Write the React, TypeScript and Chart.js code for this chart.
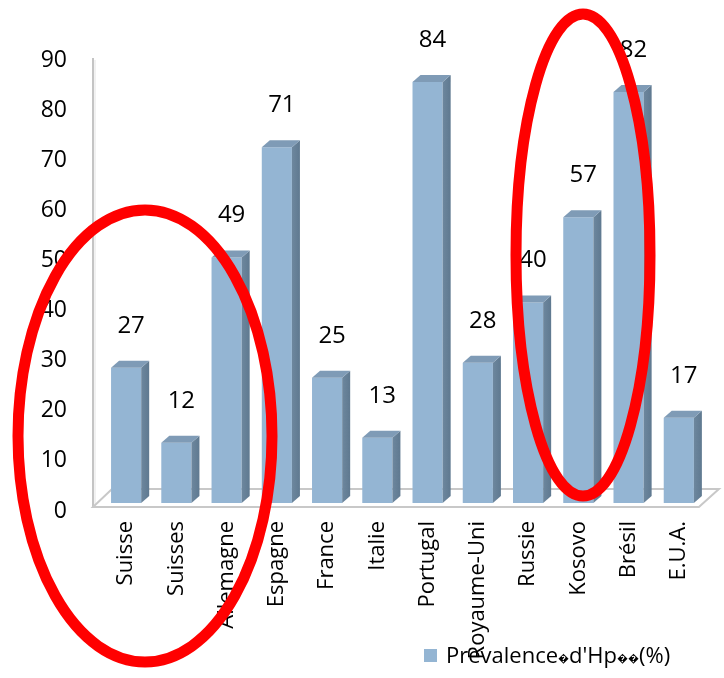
import React, { useEffect, useRef } from "react";
import { Chart, registerables } from "chart.js";

Chart.register(...registerables);

// Data
const categories = [
  "Suisse",
  "Suisses",
  "Allemagne",
  "Espagne",
  "France",
  "Italie",
  "Portugal",
  "Royaume-Uni",
  "Russie",
  "Kosovo",
  "Brésil",
  "E.U.A.",
];
const prevalence = [27, 12, 49, 71, 25, 13, 84, 28, 40, 57, 82, 17];
const seriesLabel = "Prevalence\uFFFDd'Hp\uFFFD\uFFFD(%)";
const yMin = 0;
const yMax = 90;
const yStep = 10;

// Styles
const FONT = "'Open Sans', 'DejaVu Sans', sans-serif";
const FRONT = "#94b5d3";
const SIDE = "#5f7990";
const TOP = "#7f9bb6";
const DEPTH_X = 8;
const DEPTH_Y = 7;

// Hand-drawn highlight ellipses (canvas pixels)
const highlights = [
  { cx: 145, cy: 436, rx: 127, ry: 226 },
  { cx: 583, cy: 255, rx: 67, ry: 241 },
];

// Draws text char by char, shrinking the replacement glyphs to a narrow box size
function drawLegendText(ctx: CanvasRenderingContext2D, text: string, x: number, y: number) {
  let cx = x;
  for (const ch of text) {
    const odd = ch === "\uFFFD";
    ctx.font = odd ? `11px ${FONT}` : `22px ${FONT}`;
    ctx.fillText(ch, cx, odd ? y + 2 : y);
    cx += ctx.measureText(ch).width;
  }
}

const scenePlugin = {
  id: "scene3d",
  beforeDatasetsDraw(chart: any) {
    const { ctx, chartArea } = chart;
    const { left, right, bottom, top } = chartArea;
    ctx.save();
    // left wall edge
    ctx.strokeStyle = "#c4c4c4";
    ctx.lineWidth = 2;
    ctx.beginPath();
    ctx.moveTo(left - 8, top + 6);
    ctx.lineTo(left - 8, bottom + 4);
    ctx.stroke();
    ctx.strokeStyle = "#e4e4e4";
    ctx.lineWidth = 1;
    ctx.beginPath();
    ctx.moveTo(left - 6, top + 8);
    ctx.lineTo(left - 6, bottom + 2);
    ctx.stroke();
    // floor plate
    ctx.fillStyle = "#ffffff";
    ctx.strokeStyle = "#c8c8c8";
    ctx.lineWidth = 2;
    ctx.beginPath();
    ctx.moveTo(left - 8, bottom + 4);
    ctx.lineTo(right - 5, bottom + 4);
    ctx.lineTo(right + 15, bottom - 14);
    ctx.lineTo(left + 11, bottom - 14);
    ctx.closePath();
    ctx.fill();
    ctx.stroke();
    ctx.restore();
  },
  afterDatasetsDraw(chart: any) {
    const { ctx } = chart;
    const meta = chart.getDatasetMeta(0);
    const values = chart.data.datasets[0].data as number[];
    ctx.save();
    meta.data.forEach((bar: any, i: number) => {
      const x0 = bar.x - bar.width / 2;
      const x1 = bar.x + bar.width / 2;
      const yTop = bar.y;
      const yBase = bar.base;
      // side face
      const sg = ctx.createLinearGradient(x1, 0, x1 + DEPTH_X, 0);
      sg.addColorStop(0, "#6d879e");
      sg.addColorStop(1, SIDE);
      ctx.fillStyle = sg;
      ctx.beginPath();
      ctx.moveTo(x1, yBase);
      ctx.lineTo(x1 + DEPTH_X, yBase - DEPTH_Y);
      ctx.lineTo(x1 + DEPTH_X, yTop - DEPTH_Y);
      ctx.lineTo(x1, yTop);
      ctx.closePath();
      ctx.fill();
      // top face
      ctx.fillStyle = TOP;
      ctx.beginPath();
      ctx.moveTo(x0, yTop);
      ctx.lineTo(x0 + DEPTH_X, yTop - DEPTH_Y);
      ctx.lineTo(x1 + DEPTH_X, yTop - DEPTH_Y);
      ctx.lineTo(x1, yTop);
      ctx.closePath();
      ctx.fill();
      // value label
      ctx.fillStyle = "#000000";
      ctx.font = `24px ${FONT}`;
      ctx.textAlign = "center";
      ctx.textBaseline = "middle";
      ctx.fillText(String(values[i]), bar.x + 5, yTop - 42);
    });
    ctx.restore();
  },
  afterDraw(chart: any) {
    const { ctx } = chart;
    ctx.save();
    // legend
    ctx.fillStyle = FRONT;
    ctx.fillRect(424, 649, 13, 13);
    ctx.fillStyle = "#000000";
    ctx.textAlign = "left";
    ctx.textBaseline = "middle";
    drawLegendText(ctx, chart.data.datasets[0].label, 446, 657);
    // highlight ellipses
    ctx.strokeStyle = "#ff0000";
    ctx.lineWidth = 11;
    highlights.forEach((e) => {
      ctx.beginPath();
      ctx.ellipse(e.cx, e.cy, e.rx, e.ry, 0, 0, Math.PI * 2);
      ctx.stroke();
    });
    ctx.restore();
  },
};

export default function App() {
  const canvasRef = useRef<HTMLCanvasElement | null>(null);

  useEffect(() => {
    if (!canvasRef.current) return;
    const chart = new Chart(canvasRef.current, {
      type: "bar",
      data: {
        labels: categories,
        datasets: [
          {
            label: seriesLabel,
            data: prevalence,
            backgroundColor: FRONT,
            borderWidth: 0,
            barPercentage: 0.6,
            categoryPercentage: 1,
          },
        ],
      },
      options: {
        responsive: false,
        animation: false,
        layout: { padding: { top: 52, right: 19, left: 0, bottom: 0 } },
        plugins: {
          legend: { display: false },
          tooltip: { enabled: false },
        },
        scales: {
          x: {
            grid: { display: false, drawTicks: false },
            border: { display: false },
            ticks: {
              autoSkip: false,
              minRotation: 90,
              maxRotation: 90,
              padding: 18,
              color: "#000000",
              font: { family: FONT, size: 22 },
            },
            afterFit: (scale: any) => {
              scale.height = 175;
            },
          },
          y: {
            min: yMin,
            max: yMax,
            grid: { display: false, drawTicks: false },
            border: { display: false },
            ticks: {
              stepSize: yStep,
              padding: 34,
              labelOffset: 8,
              color: "#000000",
              font: { family: FONT, size: 23 },
            },
            afterFit: (scale: any) => {
              scale.width = 101;
            },
          },
        },
      },
      plugins: [scenePlugin],
    });
    return () => chart.destroy();
  }, []);

  return (
    <div
      style={{
        position: "absolute",
        left: 0,
        top: 0,
        width: 724,
        height: 678,
        background: "#ffffff",
      }}
    >
      <canvas ref={canvasRef} width={724} height={678} />
    </div>
  );
}
